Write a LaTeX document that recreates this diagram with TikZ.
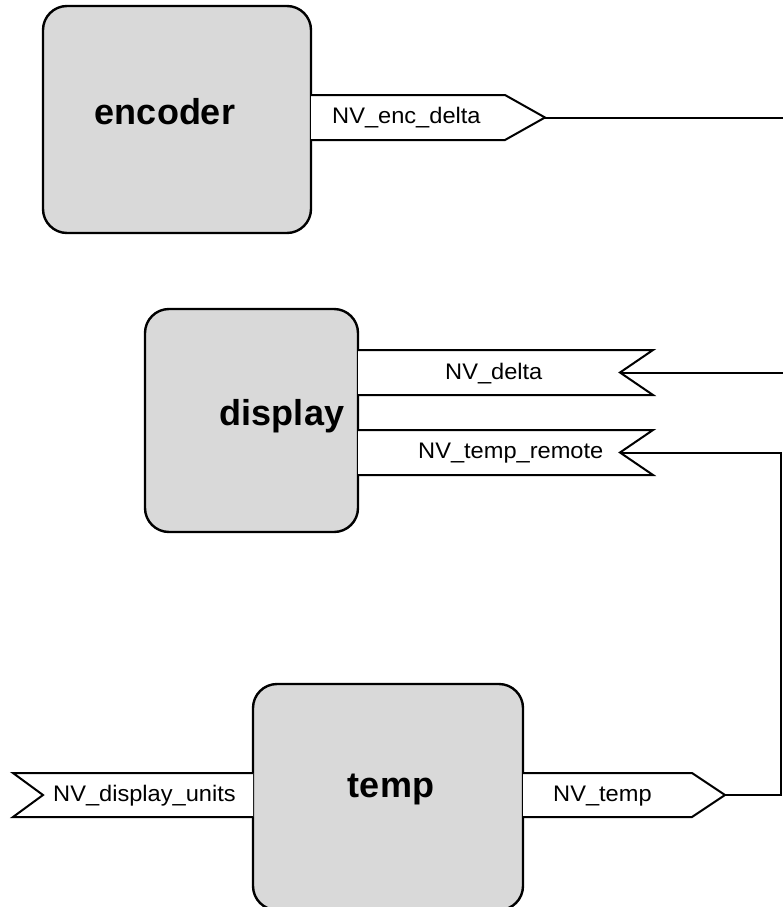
\documentclass[tikz,border=0pt]{standalone}
\usepackage{fontspec}
\setmainfont{Liberation Sans}
\begin{document}
\begin{tikzpicture}[x=1pt,y=-1pt,
  blk/.style={draw=black, line width=2.4pt, fill=black!15, rounded corners=24pt, inner sep=0pt},
  blklabel/.style={font=\fontsize{36}{40}\selectfont\bfseries, anchor=base, inner sep=0pt},
  port/.style={draw=black, line width=2pt, fill=white, line join=miter},
  portlabel/.style={font=\fontsize{22.5}{26}\selectfont, anchor=base west, inner sep=0pt},
  wire/.style={draw=black, line width=2pt, line join=miter}]
\useasboundingbox (0,0) rectangle (783,907);
\clip (0,0) rectangle (783,907);

% blocks
\node[blk, minimum width=268pt, minimum height=227pt] (enc) at (177,119.5) {};
\node[blk, minimum width=213pt, minimum height=223pt] (disp) at (251.5,420.5) {};
\node[blk, minimum width=270pt, minimum height=226pt] (tmp) at (388,797) {};

\node[blklabel] (encL) at (165,124) {encoder};
\node[blklabel] (dispL) at (282,425) {display};
\node[blklabel] (tmpL) at (391,797) {temp};

% ports
\draw[port] (311,95) -- (505,95) -- (545,117.5) -- (505,140) -- (311,140);
\draw[port] (358,350) -- (653,350) -- (620,372.5) -- (653,395) -- (358,395);
\draw[port] (358,430) -- (653,430) -- (620,452.5) -- (653,475) -- (358,475);
\draw[port] (523,773) -- (692,773) -- (725,795) -- (692,817) -- (523,817);
\draw[port] (253,773) -- (13,773) -- (43,795) -- (13,817) -- (253,817);

\node[portlabel] (pEnc) at (332,123) {\scalebox{1.05}[1]{NV\_enc\_delta}};
\node[portlabel] (pDelta) at (445,379) {\scalebox{1.05}[1]{NV\_delta}};
\node[portlabel] (pRemote) at (418,458.5) {\scalebox{1.05}[1]{NV\_temp\_remote}};
\node[portlabel] (pTemp) at (553,801) {\scalebox{1.05}[1]{NV\_temp}};
\node[portlabel] (pUnits) at (53,801) {\scalebox{1.05}[1]{NV\_display\_units}};

% connector points
\coordinate (encTip) at (545,117.5);
\coordinate (encOut) at (784,117.5);
\coordinate (deltaIn) at (620,372.5);
\coordinate (deltaOut) at (784,372.5);
\coordinate (remoteIn) at (620,452.5);
\coordinate (tempTip) at (725,795);
\coordinate (bendA) at (781,795);
\coordinate (bendB) at (781,452.5);

\draw[wire] (encTip) -- (encOut);
\draw[wire] (deltaIn) -- (deltaOut);
\draw[wire] (tempTip) -- (bendA) -- (bendB) -- (remoteIn);
\end{tikzpicture}
\end{document}
